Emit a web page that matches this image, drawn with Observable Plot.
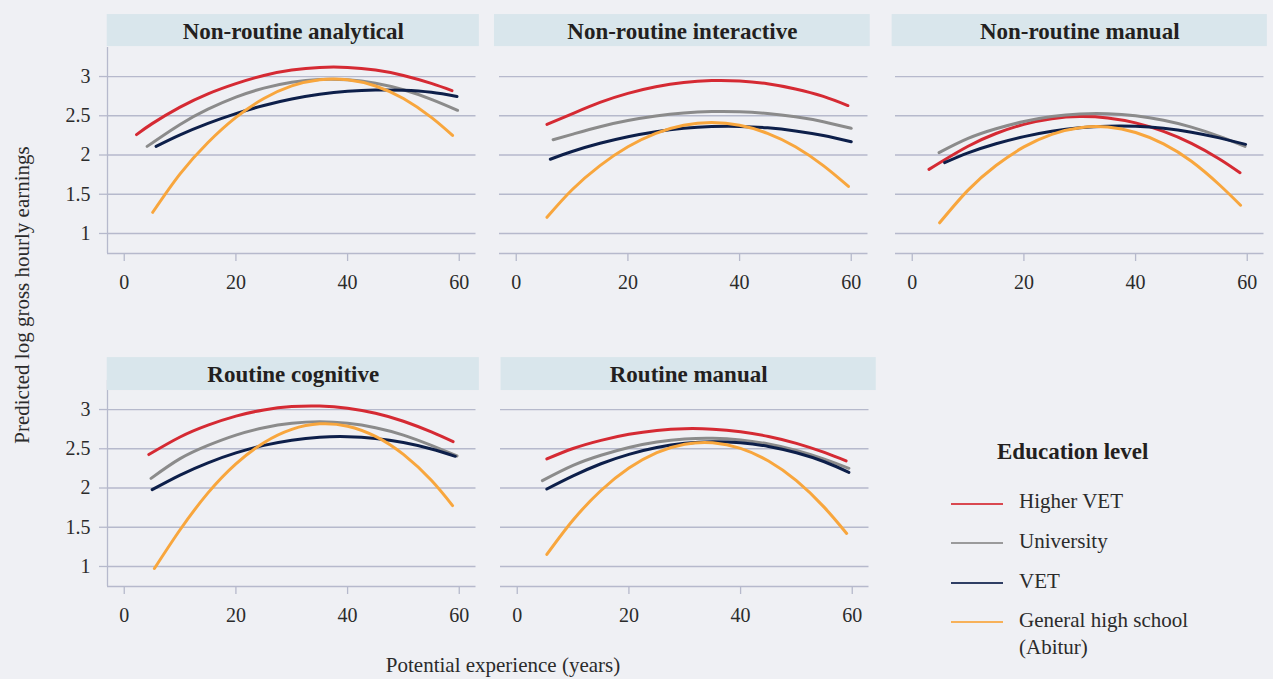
<!DOCTYPE html>
<html>
<head>
<meta charset="utf-8">
<script src="https://cdn.jsdelivr.net/npm/d3@7"></script>
<script src="https://cdn.jsdelivr.net/npm/@observablehq/plot@0.6"></script>
<style>
  html, body { margin: 0; padding: 0; background: #eff0f4; }
  #chart { position: relative; width: 1273px; height: 679px; overflow: hidden; background: #eff0f4;
           font-family: "Liberation Serif", "DejaVu Serif", serif; color: #2b2b2b; }
  .abs { position: absolute; white-space: nowrap; }
</style>
</head>
<body>
<div id="chart"></div>
<script>
// ---------- data ----------
const panelTitles = ["Non-routine analytical", "Non-routine interactive", "Non-routine manual", "Routine cognitive", "Routine manual"];
const levels = ["Higher VET", "University", "VET", "General high school (Abitur)"];
const levelColors = ["#d52a33", "#8b8b8b", "#0d1f4a", "#f8a63d"];
const xTicks = [0, 20, 40, 60];
const yTicks = [1, 1.5, 2, 2.5, 3];

// each panel: one series per education level, [experience, predicted log earnings]
const nonRoutineAnalytical = [
  [[2.2,2.26],[5,2.40],[10,2.61],[15,2.78],[20,2.91],[25,3.014],[30,3.082],[35,3.116],[40,3.116],[45,3.082],[50,3.014],[55,2.912],[58.7,2.82]],
  [[4.1,2.11],[10,2.39],[15,2.584],[20,2.738],[25,2.852],[30,2.927],[35,2.963],[40,2.959],[45,2.915],[50,2.832],[55,2.71],[59.7,2.57]],
  [[5.7,2.11],[10,2.257],[15,2.403],[20,2.528],[25,2.631],[30,2.713],[35,2.773],[40,2.812],[45,2.829],[50,2.825],[55,2.799],[59.6,2.745]],
  [[5.1,1.27],[10,1.76],[15,2.16],[20,2.48],[25,2.72],[30,2.88],[35,2.96],[40,2.96],[45,2.88],[50,2.72],[55,2.48],[58.8,2.25]]
];
const nonRoutineInteractive = [
  [[5.5,2.39],[10,2.525],[15,2.67],[20,2.785],[25,2.869],[30,2.924],[35,2.948],[40,2.943],[45,2.908],[50,2.842],[55,2.747],[59.4,2.63]],
  [[6.6,2.195],[10,2.263],[15,2.361],[20,2.439],[25,2.497],[30,2.535],[35,2.553],[40,2.551],[45,2.529],[50,2.487],[55,2.425],[60,2.34]],
  [[6.1,1.946],[10,2.045],[15,2.149],[20,2.233],[25,2.297],[30,2.34],[35,2.362],[40,2.364],[45,2.346],[50,2.307],[55,2.248],[60,2.169]],
  [[5.5,1.206],[10,1.557],[15,1.865],[20,2.105],[25,2.276],[30,2.379],[35,2.413],[40,2.379],[45,2.276],[50,2.105],[55,1.865],[59.5,1.60]]
];
const nonRoutineManual = [
  [[3.0,1.817],[5,1.905],[10,2.112],[15,2.274],[20,2.391],[25,2.463],[30,2.49],[35,2.472],[40,2.409],[45,2.301],[50,2.148],[55,1.95],[58.7,1.774]],
  [[4.8,2.03],[10,2.211],[15,2.334],[20,2.427],[25,2.49],[30,2.523],[35,2.526],[40,2.499],[45,2.442],[50,2.355],[55,2.238],[59.6,2.11]],
  [[5.8,1.902],[10,2.027],[15,2.143],[20,2.234],[25,2.302],[30,2.347],[35,2.368],[40,2.366],[45,2.34],[50,2.291],[55,2.218],[59.7,2.136]],
  [[4.9,1.136],[10,1.553],[15,1.866],[20,2.103],[25,2.264],[30,2.348],[35,2.356],[40,2.287],[45,2.142],[50,1.92],[55,1.621],[58.8,1.36]]
];
const routineCognitive = [
  [[4.4,2.426],[10,2.65],[15,2.801],[20,2.916],[25,2.995],[30,3.038],[35,3.045],[40,3.017],[45,2.952],[50,2.851],[55,2.714],[58.9,2.59]],
  [[4.8,2.123],[10,2.374],[15,2.543],[20,2.674],[25,2.768],[30,2.824],[35,2.843],[40,2.824],[45,2.768],[50,2.674],[55,2.543],[59.6,2.41]],
  [[5.0,1.979],[10,2.165],[15,2.321],[20,2.447],[25,2.543],[30,2.61],[35,2.647],[40,2.654],[45,2.631],[50,2.579],[55,2.497],[59.3,2.404]],
  [[5.4,0.974],[10,1.468],[15,1.938],[20,2.308],[25,2.578],[30,2.748],[35,2.818],[40,2.788],[45,2.658],[50,2.428],[55,2.098],[58.8,1.776]]
];
const routineManual = [
  [[5.3,2.37],[10,2.503],[15,2.607],[20,2.684],[25,2.734],[30,2.756],[35,2.75],[40,2.717],[45,2.657],[50,2.569],[55,2.453],[58.9,2.345]],
  [[4.5,2.094],[10,2.288],[15,2.417],[20,2.516],[25,2.585],[30,2.624],[35,2.633],[40,2.612],[45,2.561],[50,2.48],[55,2.369],[59.4,2.251]],
  [[5.3,1.987],[10,2.154],[15,2.309],[20,2.429],[25,2.516],[30,2.57],[35,2.59],[40,2.576],[45,2.53],[50,2.449],[55,2.335],[59.4,2.2]],
  [[5.3,1.153],[10,1.592],[15,1.968],[20,2.254],[25,2.451],[30,2.558],[35,2.576],[40,2.505],[45,2.344],[50,2.093],[55,1.753],[59,1.421]]
];
const panelSeries = [nonRoutineAnalytical, nonRoutineInteractive, nonRoutineManual, routineCognitive, routineManual];

// ---------- layout ----------
const gridColor = "#b6b9cc";
const headerColor = "#d9e6ec";
const textColor = "#2b2b2b";
const xDomain = [-3, 63];
const yDomain = [0.745, 3.37];
const M = {left: 50, right: 16, top: 40, bottom: 50};
const frameW = 368.5, frameH = 206;
const layout = [
  {left: 107.25, top: 47,  col0: true,  hx: [-3.05, 63.6], hy: [3.382, 3.79]},
  {left: 499.3,  top: 47,  col0: false, hx: [-3.9, 63.4],  hy: [3.382, 3.79]},
  {left: 895.25, top: 47,  col0: false, hx: [-3.6, 63.6],  hy: [3.382, 3.79]},
  {left: 107.25, top: 380, col0: true,  hx: [-3.05, 63.6], hy: [3.242, 3.662]},
  {left: 500.25, top: 380, col0: false, hx: [-2.9, 64.3],  hy: [3.242, 3.662]}
];

const chart = document.getElementById("chart");

panelSeries.forEach((series, i) => {
  const L = layout[i];
  const rows = [];
  series.forEach((pts, s) => pts.forEach(([x, y]) => rows.push({x, y, level: levels[s]})));
  const header = [{x1: L.hx[0], x2: L.hx[1], y1: L.hy[0], y2: L.hy[1],
                   xm: (L.hx[0] + L.hx[1]) / 2, ym: (L.hy[0] + L.hy[1]) / 2, title: panelTitles[i]}];
  const marks = [
    Plot.ruleY(yTicks, {stroke: gridColor, strokeWidth: 1.3}),
    Plot.ruleY([yDomain[0]], {stroke: gridColor, strokeWidth: 1.3}),
    Plot.axisX({ticks: xTicks, tickSize: 8, tickPadding: 13, stroke: gridColor, strokeWidth: 1.3,
                fill: textColor, fontSize: 20, label: null})
  ];
  if (L.col0) {
    marks.push(Plot.ruleX([xDomain[0]], {stroke: gridColor, strokeWidth: 1.3}));
    marks.push(Plot.axisY({ticks: yTicks, tickSize: 8, tickPadding: 9, stroke: gridColor, strokeWidth: 1.3,
                           fill: textColor, fontSize: 20, label: null, tickFormat: d => String(d)}));
  }
  marks.push(Plot.line(rows, {x: "x", y: "y", z: "level", stroke: "level", strokeWidth: 3, curve: "natural"}));
  marks.push(Plot.rect(header, {x1: "x1", x2: "x2", y1: "y1", y2: "y2", fill: headerColor}));
  marks.push(Plot.text(header, {x: "xm", y: "ym", text: "title", fontSize: 23, fontWeight: "bold",
                                fill: "#231f20", dy: 1}));
  const svg = Plot.plot({
    width: M.left + frameW + M.right,
    height: M.top + frameH + M.bottom,
    marginLeft: M.left, marginRight: M.right, marginTop: M.top, marginBottom: M.bottom,
    x: {domain: xDomain},
    y: {domain: yDomain, axis: L.col0 ? undefined : null},
    color: {domain: levels, range: levelColors},
    style: {background: "transparent", overflow: "visible", fontFamily: "'Liberation Serif', serif",
            fontSize: "20px", color: textColor},
    marks
  });
  svg.style.position = "absolute";
  svg.style.left = (L.left - M.left) + "px";
  svg.style.top = (L.top - M.top) + "px";
  svg.style.maxWidth = "none";
  chart.appendChild(svg);
});

// axis titles
const yTitle = document.createElement("div");
yTitle.className = "abs";
yTitle.textContent = "Predicted log gross hourly earnings";
Object.assign(yTitle.style, {left: "22px", top: "295px", fontSize: "21px", lineHeight: "21px",
  transform: "translate(-50%, -50%) rotate(-90deg)", transformOrigin: "center"});
chart.appendChild(yTitle);

const xTitle = document.createElement("div");
xTitle.className = "abs";
xTitle.textContent = "Potential experience (years)";
Object.assign(xTitle.style, {left: "503px", top: "655px", fontSize: "21px", lineHeight: "21px",
  transform: "translateX(-50%)"});
chart.appendChild(xTitle);

// legend
const legTitle = document.createElement("div");
legTitle.className = "abs";
legTitle.textContent = "Education level";
Object.assign(legTitle.style, {left: "997px", top: "440px", fontSize: "23px", lineHeight: "23px",
  fontWeight: "bold", color: "#231f20"});
chart.appendChild(legTitle);

const legendLabelTops = [488, 528, 568, 607];
const legendLineYs = [504, 543, 583, 622];
const legendLabels = ["Higher VET", "University", "VET", "General high school<br>(Abitur)"];
levels.forEach((lv, k) => {
  const ln = document.createElement("div");
  ln.className = "abs";
  Object.assign(ln.style, {left: "951px", top: (legendLineYs[k] - 1) + "px", width: "52px", height: "2px",
    background: levelColors[k], opacity: 0.85});
  chart.appendChild(ln);
  const lb = document.createElement("div");
  lb.className = "abs";
  lb.innerHTML = legendLabels[k];
  Object.assign(lb.style, {left: "1019px", top: legendLabelTops[k] + "px", fontSize: "21px", lineHeight: "27px"});
  chart.appendChild(lb);
});
</script>
</body>
</html>
